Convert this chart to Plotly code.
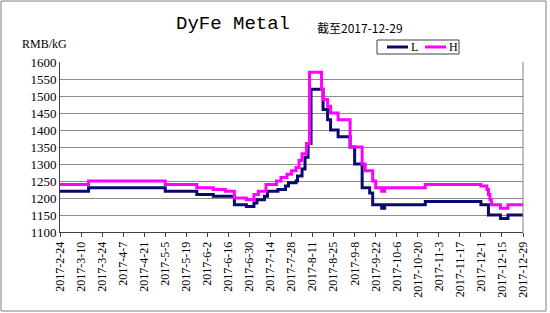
import plotly.graph_objects as go

# ---- data (change points, step series) ----
dates_L = ["2017-02-24","2017-03-15","2017-05-05","2017-05-26","2017-06-06","2017-06-20","2017-06-28","2017-07-03",
           "2017-07-05","2017-07-10","2017-07-12","2017-07-19","2017-07-24","2017-07-26","2017-07-31","2017-08-01",
           "2017-08-04","2017-08-06","2017-08-08","2017-08-10","2017-08-18","2017-08-21","2017-08-23","2017-08-28",
           "2017-09-05","2017-09-08","2017-09-13","2017-09-18","2017-09-20","2017-09-26","2017-09-28","2017-10-25",
           "2017-12-01","2017-12-06","2017-12-14","2017-12-19","2017-12-29"]
values_L = [1220,1230,1220,1210,1205,1180,1175,1185,1195,1205,1220,1225,1235,1245,1250,1265,1285,1320,1360,1520,
            1460,1430,1400,1380,1350,1300,1230,1215,1180,1170,1180,1190,1180,1150,1140,1150,1150]

dates_H = ["2017-02-24","2017-03-15","2017-05-05","2017-05-26","2017-06-06","2017-06-14","2017-06-20","2017-06-28",
           "2017-07-03","2017-07-06","2017-07-11","2017-07-18","2017-07-21","2017-07-25","2017-07-28","2017-07-31",
           "2017-08-02","2017-08-04","2017-08-07","2017-08-09","2017-08-17","2017-08-18","2017-08-21","2017-08-23",
           "2017-08-28","2017-09-05","2017-09-13","2017-09-15","2017-09-20","2017-09-22","2017-09-26","2017-09-28",
           "2017-10-25","2017-12-01","2017-12-05","2017-12-06","2017-12-07","2017-12-08","2017-12-14","2017-12-19",
           "2017-12-29"]
values_H = [1240,1250,1240,1230,1225,1220,1200,1195,1210,1220,1240,1250,1260,1270,1280,1290,1310,1330,1360,1570,
            1520,1490,1470,1450,1430,1350,1300,1280,1250,1230,1220,1230,1240,1235,1225,1210,1195,1180,1170,1180,
            1180]

tick_dates = ["2017-02-24","2017-03-10","2017-03-24","2017-04-07","2017-04-21","2017-05-05","2017-05-19","2017-06-02",
              "2017-06-16","2017-06-30","2017-07-14","2017-07-28","2017-08-11","2017-08-25","2017-09-08","2017-09-22",
              "2017-10-06","2017-10-20","2017-11-03","2017-11-17","2017-12-01","2017-12-15","2017-12-29"]
tick_labels = ["2017-2-24","2017-3-10","2017-3-24","2017-4-7","2017-4-21","2017-5-5","2017-5-19","2017-6-2",
               "2017-6-16","2017-6-30","2017-7-14","2017-7-28","2017-8-11","2017-8-25","2017-9-8","2017-9-22",
               "2017-10-6","2017-10-20","2017-11-3","2017-11-17","2017-12-1","2017-12-15","2017-12-29"]

COL_L = "#0a0a6e"
COL_H = "#ff00ff"
SERIF = "Liberation Serif"

fig = go.Figure()
fig.add_trace(go.Scatter(x=dates_L, y=values_L, mode="lines", name="L", line=dict(color=COL_L, width=3, shape="hv")))
fig.add_trace(go.Scatter(x=dates_H, y=values_H, mode="lines", name="H", line=dict(color=COL_H, width=3, shape="hv")))

W, H = 550, 313
L_M, R_M, T_M, B_M = 60, 27, 62, 81
pw, ph = W - L_M - R_M, H - T_M - B_M

def px(x):
    return (x - L_M) / pw

def py(y):
    return (H - B_M - y) / ph

shapes = [
    # outer border
    dict(type="rect", xref="paper", yref="paper", x0=px(1), x1=px(546), y0=py(311), y1=py(1),
         line=dict(color="#808080", width=1)),
    # right border of plot
    dict(type="line", xref="paper", yref="paper", x0=1, x1=1, y0=0, y1=1, line=dict(color="#808080", width=1)),
    # legend box
    dict(type="rect", xref="paper", yref="paper", x0=px(377), x1=px(459), y0=py(54), y1=py(40),
         line=dict(color="#404040", width=1), fillcolor="white"),
    dict(type="line", xref="paper", yref="paper", x0=px(387), x1=px(408), y0=py(47), y1=py(47),
         line=dict(color=COL_L, width=3)),
    dict(type="line", xref="paper", yref="paper", x0=px(425), x1=px(446), y0=py(47), y1=py(47),
         line=dict(color=COL_H, width=3)),
]

annotations = [
    dict(text="DyFe Metal", xref="paper", yref="paper", x=px(233), y=py(24), showarrow=False,
         xanchor="center", yanchor="middle", font=dict(family="Liberation Mono", size=19, color="#000")),
    dict(text="截至2017-12-29", xref="paper", yref="paper", x=px(315), y=py(27), showarrow=False,
         xanchor="left", yanchor="middle", font=dict(family="Noto Sans CJK SC", size=12, color="#000")),
    dict(text="RMB/kG", xref="paper", yref="paper", x=px(20), y=py(44), showarrow=False,
         xanchor="left", yanchor="middle", font=dict(family=SERIF, size=12, color="#000")),
    dict(text="L", xref="paper", yref="paper", x=px(409), y=py(47), showarrow=False,
         xanchor="left", yanchor="middle", font=dict(family=SERIF, size=12, color="#000")),
    dict(text="H", xref="paper", yref="paper", x=px(447), y=py(47), showarrow=False,
         xanchor="left", yanchor="middle", font=dict(family=SERIF, size=12, color="#000")),
]

fig.update_layout(
    width=W, height=H,
    margin=dict(l=L_M, r=R_M, t=T_M, b=B_M),
    paper_bgcolor="white", plot_bgcolor="white",
    showlegend=False,
    shapes=shapes, annotations=annotations,
    xaxis=dict(type="date", range=["2017-02-24", "2017-12-29"], tickmode="array",
               tickvals=tick_dates, ticktext=tick_labels, tickangle=-90,
               tickfont=dict(family=SERIF, size=12, color="#000"),
               showgrid=False, showline=True, linecolor="#404040", linewidth=1,
               ticks="outside", ticklen=4, tickcolor="#404040", zeroline=False),
    yaxis=dict(range=[1100, 1600], dtick=50, tick0=1100,
               tickfont=dict(family=SERIF, size=13, color="#000"),
               showgrid=True, gridcolor="#8c8c8c", gridwidth=1,
               showline=True, linecolor="#404040", linewidth=1, ticks="", zeroline=False),
)

fig.write_html("out.html")
